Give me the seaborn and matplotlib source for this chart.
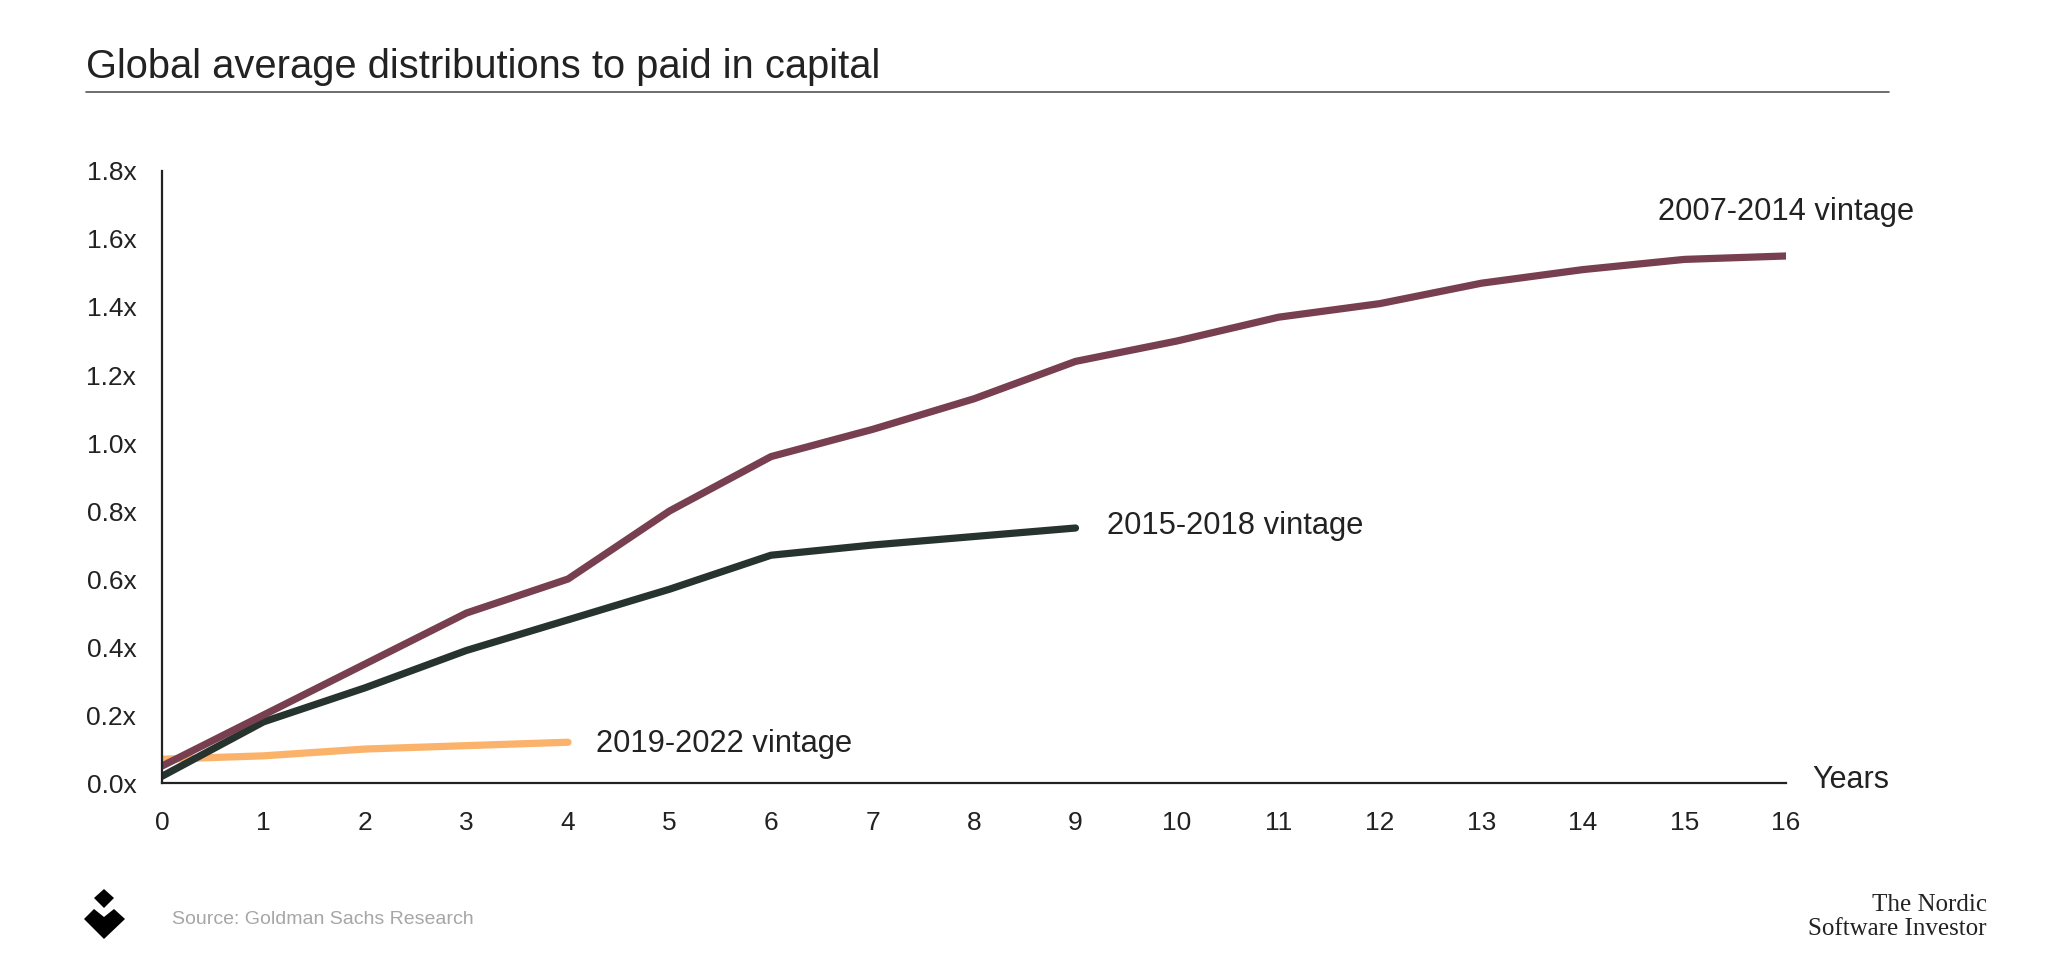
import matplotlib
matplotlib.use("Agg")
import matplotlib.pyplot as plt
import numpy as np
import pandas as pd
import seaborn as sns
from matplotlib.patches import Polygon
from matplotlib.lines import Line2D

# Data (DPI multiple by fund age in years)
years_0714 = [0, 1, 2, 3, 4, 5, 6, 7, 8, 9, 10, 11, 12, 13, 14, 15, 16]
dpi_0714 = [0.05, 0.20, 0.35, 0.50, 0.60, 0.80, 0.96, 1.04, 1.13, 1.24,
            1.30, 1.37, 1.41, 1.47, 1.51, 1.54, 1.55]

years_1518 = [0, 1, 2, 3, 4, 5, 6, 7, 8, 9]
dpi_1518 = [0.02, 0.18, 0.28, 0.39, 0.48, 0.57, 0.67, 0.70, 0.725, 0.75]

years_1922 = [0, 1, 2, 3, 4]
dpi_1922 = [0.07, 0.08, 0.10, 0.11, 0.12]

series_names = ["2007-2014 vintage", "2015-2018 vintage", "2019-2022 vintage"]
colors = {"2007-2014 vintage": "#773f50",
          "2015-2018 vintage": "#26332f",
          "2019-2022 vintage": "#fbb36b"}

x_ticks = list(range(0, 17))
y_ticks = [0.0, 0.2, 0.4, 0.6, 0.8, 1.0, 1.2, 1.4, 1.6, 1.8]

title = "Global average distributions to paid in capital"
source = "Source: Goldman Sachs Research"
brand = "The Nordic\nSoftware Investor"

frames = []
for name, xs, ys in zip(series_names,
                        [years_0714, years_1518, years_1922],
                        [dpi_0714, dpi_1518, dpi_1922]):
    frames.append(pd.DataFrame({"year": xs, "dpi": ys, "vintage": name}))
df = pd.concat(frames, ignore_index=True)

sns.set_theme(style="white")
plt.rcParams['font.family'] = ['Liberation Sans', 'DejaVu Sans']
ink = "#222222"

fig = plt.figure(figsize=(20.64, 9.66), dpi=100)
ax = fig.add_axes([0.0785, 0.1894, 0.7868, 0.6336])

# draw order: orange underneath, then green, maroon on top
for name in ["2019-2022 vintage", "2015-2018 vintage", "2007-2014 vintage"]:
    sub = df[df["vintage"] == name]
    sns.lineplot(data=sub, x="year", y="dpi", ax=ax, color=colors[name],
                 linewidth=5.2, solid_capstyle="round", solid_joinstyle="round",
                 legend=False)

ax.set_xlim(0, 16)
ax.set_ylim(0, 1.8)
ax.set_xticks(x_ticks)
ax.set_yticks(y_ticks)
ax.set_yticklabels([f"{v:.1f}x" for v in y_ticks])
ax.set_xlabel("")
ax.set_ylabel("")
for side in ["top", "right"]:
    ax.spines[side].set_visible(False)
for side in ["left", "bottom"]:
    ax.spines[side].set_color(ink)
    ax.spines[side].set_linewidth(1.6)
ax.tick_params(axis="both", which="major", width=1.4, color=ink,
               labelcolor=ink, labelsize=19, direction="out")
ax.tick_params(axis="y", length=6.5, pad=12)
ax.tick_params(axis="x", length=7.2, pad=13)

# series labels at line ends
ax.text(14.74, 1.68, series_names[0], fontsize=22.2, color=ink,
        ha="left", va="center")
ax.text(9.31, 0.755, series_names[1], fontsize=22.2, color=ink,
        ha="left", va="center")
ax.text(4.28, 0.115, series_names[2], fontsize=22.2, color=ink,
        ha="left", va="center")
ax.text(16.26, 0.01, "Years", fontsize=22, color=ink, ha="left", va="center")

# title and rule
fig.text(86 / 2064, 1 - 67 / 966, title, fontsize=28.7, color=ink,
         ha="left", va="center")
fig.add_artist(Line2D([86 / 2064, 1889 / 2064], [1 - 92 / 966, 1 - 92 / 966],
                      color="#555555", linewidth=1.2))

# footer
fig.text(172 / 2064, 1 - 920 / 966, source, fontsize=14, color="#a6a6a6",
         ha="left", va="center")
fig.text(1987 / 2064, 1 - 917 / 966, brand, fontsize=18, color=ink,
         family=["Liberation Serif", "DejaVu Serif"], ha="right", va="center",
         linespacing=1.15)


def px(x, y):
    return (x / 2064, 1 - y / 966)


logo_top = [px(94, 898), px(104, 889), px(114, 898), px(104, 908)]
logo_bottom = [px(84, 919), px(94, 909), px(104, 917), px(114, 909),
               px(125, 919), px(104, 939)]
for pts in (logo_top, logo_bottom):
    fig.add_artist(Polygon(pts, closed=True, transform=fig.transFigure,
                           facecolor="black", edgecolor="none"))

fig.savefig("out.png", dpi=100, facecolor="white")
